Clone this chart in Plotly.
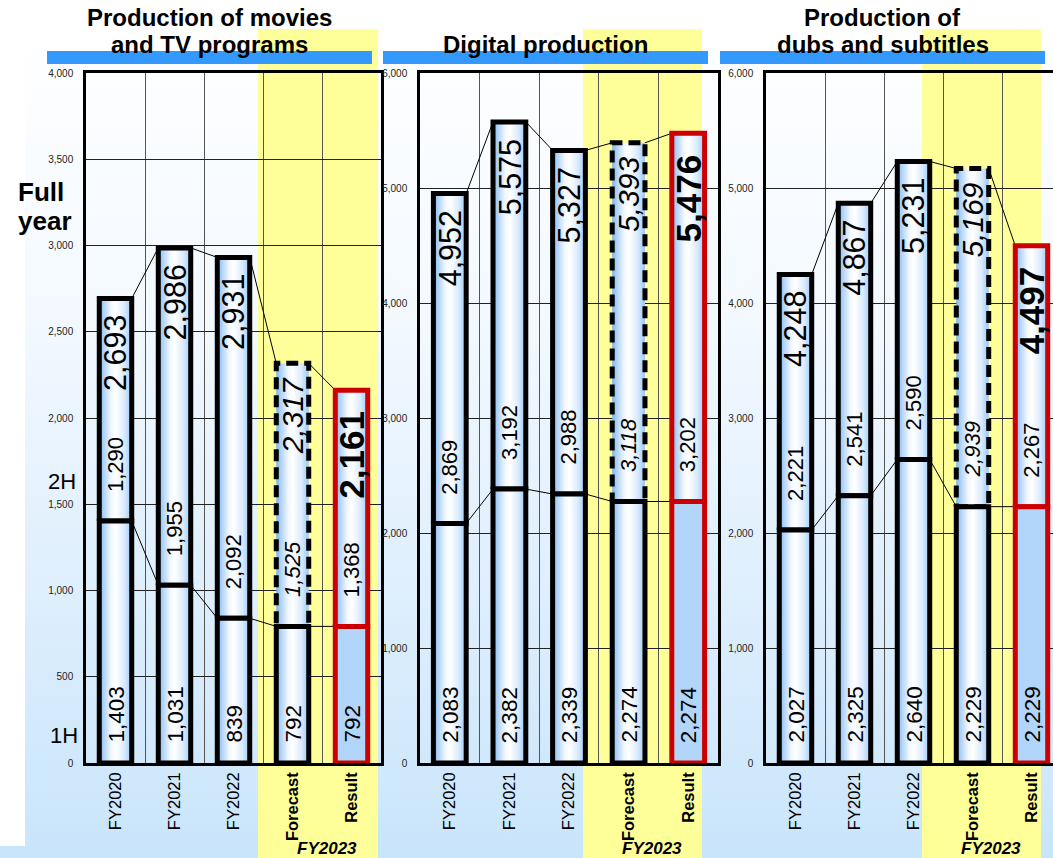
import plotly.graph_objects as go

W, H = 1053, 858
FONT = "Liberation Sans, Arial, sans-serif"

# ---- data -------------------------------------------------------------
categories = ["FY2020", "FY2021", "FY2022", "Forecast", "Result"]
year_label = "FY2023"

movies_1h = [1403, 1031, 839, 792, 792]
movies_2h = [1290, 1955, 2092, 1525, 1368]
movies_full = [2693, 2986, 2931, 2317, 2161]

digital_1h = [2083, 2382, 2339, 2274, 2274]
digital_2h = [2869, 3192, 2988, 3118, 3202]
digital_full = [4952, 5575, 5327, 5393, 5476]

dubs_1h = [2027, 2325, 2640, 2229, 2229]
dubs_2h = [2221, 2541, 2590, 2939, 2267]
dubs_full = [4248, 4867, 5231, 5169, 4497]

panel_titles = [
    ("Production of movies", "and TV programs"),
    ("", "Digital production"),
    ("Production of", "dubs and subtitles"),
]
y_max = [4000, 6000, 6000]
y_step = [500, 1000, 1000]

panels = [
    dict(h1=movies_1h, h2=movies_2h, full=movies_full),
    dict(h1=digital_1h, h2=digital_2h, full=digital_full),
    dict(h1=dubs_1h, h2=dubs_2h, full=dubs_full),
]

# ---- geometry / styling (pixels) --------------------------------------
PLOT_TOP, PLOT_BASE = 73, 763
panel_left = [86, 420, 766]
panel_slot = [59.0, 59.6, 59.0]
yellow_px = [(258, 378), (583, 702), (922, 1041)]
blue_px = [(47, 372), (383, 708), (720, 1045)]
year_label_x = [327, 652, 991]

RED = "#cc0000"
YELLOW = "#ffff99"
BLUE = "#3399ff"
BAR_GRAD = [[0, "#7ab3ef"], [0.12, "#a8cff8"], [0.38, "#f4f9ff"], [0.52, "#ffffff"],
            [0.78, "#d8eafd"], [1, "#9ac8f6"]]
BG_GRAD = [[0, "#ffffff"], [0.35, "#f3f9ff"], [0.7, "#ddeefd"], [1, "#c9e5fb"]]
HW = 0.275  # half bar width in category units


def px_x(v):
    return v / W


def px_y(v):
    return 1 - v / H


def rect(x0, x1, y0, y1):
    return [x0, x1, x1, x0, x0], [y0, y0, y1, y1, y0]


fig = go.Figure()

# ---- page background: gradient + yellow FY2023 bands -------------------
bx, by = rect(25, W, 20, H)
fig.add_trace(go.Scatter(x=bx, y=by, mode="lines", fill="toself", line=dict(width=0),
                         fillgradient=dict(type="vertical", colorscale=BG_GRAD, start=20, stop=H),
                         xaxis="x", yaxis="y", hoverinfo="skip"))
bx, by = rect(0, 25, 846, H)
fig.add_trace(go.Scatter(x=bx, y=by, mode="lines", fill="toself", line=dict(width=0),
                         fillcolor="#c9e5fb", xaxis="x", yaxis="y", hoverinfo="skip"))
for x0, x1 in yellow_px:
    bx, by = rect(x0, x1, 29, H)
    fig.add_trace(go.Scatter(x=bx, y=by, mode="lines", fill="toself", line=dict(width=0),
                             fillcolor=YELLOW, xaxis="x", yaxis="y", hoverinfo="skip"))

layout = dict(
    xaxis=dict(domain=[0, 1], range=[0, W], visible=False, fixedrange=True),
    yaxis=dict(domain=[0, 1], range=[H, 0], visible=False, fixedrange=True),
)

annotations = []
shapes = []

n = len(categories)
for p, P in enumerate(panels):
    k = p + 2
    xa, ya = f"x{k}", f"y{k}"
    left, slot = panel_left[p], panel_slot[p]
    right = min(left + n * slot, W)
    x_hi = -0.5 + (right - left) / slot

    layout[f"xaxis{k}"] = dict(
        domain=[px_x(left), px_x(right)], range=[-0.5, x_hi], anchor=ya,
        tickmode="array", tickvals=list(range(n)),
        ticktext=[c if i < 3 else f"<b>{c}</b>" for i, c in enumerate(categories)],
        tickangle=-90, tickfont=dict(family=FONT, size=16.5, color="black"),
        ticks="", showgrid=False, zeroline=False, automargin=False,
        minor=dict(tickmode="array", tickvals=[i + 0.5 for i in range(n - 1)],
                   showgrid=True, gridcolor="#555555", gridwidth=1, ticks=""),
        showline=True, mirror=True, linecolor="black", linewidth=2.5, fixedrange=True,
    )
    layout[f"yaxis{k}"] = dict(
        domain=[px_y(PLOT_BASE), px_y(PLOT_TOP)], range=[0, y_max[p]], anchor=xa,
        tickmode="linear", tick0=0, dtick=y_step[p], tickformat=",d",
        tickfont=dict(family=FONT, size=10, color="#222222"),
        ticks="", ticklabelstandoff=8, automargin=False,
        showgrid=True, gridcolor="#222222", gridwidth=1, zeroline=False,
        showline=True, mirror=(p < 2), linecolor="black", linewidth=2.5, fixedrange=True,
    )

    h1, h2, full = P["h1"], P["h2"], P["full"]

    # thin connector lines between neighbouring bars (full year and 1H levels)
    for series in (full, h1):
        for i in range(n - 1):
            fig.add_trace(go.Scatter(x=[i + HW, i + 1 - HW], y=[series[i], series[i + 1]],
                                     mode="lines", line=dict(color="black", width=1),
                                     xaxis=xa, yaxis=ya, hoverinfo="skip"))

    for i in range(n):
        forecast = categories[i] == "Forecast"
        result = categories[i] == "Result"
        edge = RED if result else "black"

        # 2H segment (upper box)
        xs, ys = rect(i - HW, i + HW, h1[i], full[i])
        fig.add_trace(go.Scatter(
            x=xs, y=ys, mode="lines", fill="toself",
            fillgradient=dict(type="horizontal", colorscale=BAR_GRAD),
            line=dict(color=edge, width=5, dash="12px,6px" if forecast else "solid"),
            xaxis=xa, yaxis=ya, hoverinfo="skip"))

        # 1H segment (lower box)
        xs, ys = rect(i - HW, i + HW, 0, h1[i])
        if result:
            fig.add_trace(go.Scatter(x=xs, y=ys, mode="lines", fill="toself",
                                     fillcolor="#b1d6fa", line=dict(color=edge, width=5),
                                     xaxis=xa, yaxis=ya, hoverinfo="skip"))
        else:
            fig.add_trace(go.Scatter(x=xs, y=ys, mode="lines", fill="toself",
                                     fillgradient=dict(type="horizontal", colorscale=BAR_GRAD),
                                     line=dict(color=edge, width=5),
                                     xaxis=xa, yaxis=ya, hoverinfo="skip"))

        # value labels, rotated
        def vlabel(text, y, size, yanchor, yshift, style=None):
            if style == "b":
                text = f"<b>{text}</b>"
            elif style == "i":
                text = f"<i>{text}</i>"
            annotations.append(dict(
                x=i, y=y, xref=xa, yref=ya, text=text, showarrow=False, textangle=-90,
                xanchor="center", yanchor=yanchor, yshift=yshift,
                font=dict(family=FONT, size=size, color="black")))

        if result:
            vlabel(f"{full[i]:,}", full[i], 35, "top", -19, "b")
        elif forecast:
            vlabel(f"{full[i]:,}", full[i], 30, "top", -12, "i")
        else:
            vlabel(f"{full[i]:,}", full[i], 30.5, "top", -15)
        vlabel(f"{h2[i]:,}", h1[i], 22, "bottom", 27, "i" if forecast else None)
        vlabel(f"{h1[i]:,}", 0, 22.5, "bottom", 18)

    # panel heading: blue underline bar + two-line title
    x0, x1 = blue_px[p]
    shapes.append(dict(type="rect", xref="paper", yref="paper", layer="above",
                       x0=px_x(x0), x1=px_x(x1), y0=px_y(64), y1=px_y(51),
                       fillcolor=BLUE, line=dict(width=0)))
    cx = (x0 + x1) / 2
    for txt, yc in zip(panel_titles[p], (17.0, 44.5)):
        if txt:
            annotations.append(dict(x=px_x(cx), y=px_y(yc), xref="paper", yref="paper",
                                    text=f"<b>{txt}</b>", showarrow=False, borderpad=0,
                                    xanchor="center", yanchor="middle",
                                    font=dict(family=FONT, size=24, color="black")))
    annotations.append(dict(x=px_x(year_label_x[p]), y=px_y(848), xref="paper", yref="paper",
                            text=f"<b><i>{year_label}</i></b>", showarrow=False,
                            xanchor="center", yanchor="middle",
                            font=dict(family=FONT, size=17, color="black")))

# left-hand row captions
for txt, xl, yc, size, bold in [("Full", 16, 192, 26, True), ("year", 16, 221, 26, True),
                                ("2H", 46, 482, 22, False), ("1H", 48, 735, 22, False)]:
    annotations.append(dict(x=px_x(xl), y=px_y(yc), xref="paper", yref="paper",
                            text=f"<b>{txt}</b>" if bold else txt, showarrow=False,
                            xanchor="left", yanchor="middle",
                            font=dict(family=FONT, size=size, color="black")))

fig.update_layout(
    **layout,
    width=W, height=H, margin=dict(l=0, r=0, t=0, b=0, pad=0, autoexpand=False),
    paper_bgcolor="white", plot_bgcolor="rgba(0,0,0,0)",
    showlegend=False, hovermode=False,
    annotations=annotations, shapes=shapes,
)

fig.write_html("out.html")
